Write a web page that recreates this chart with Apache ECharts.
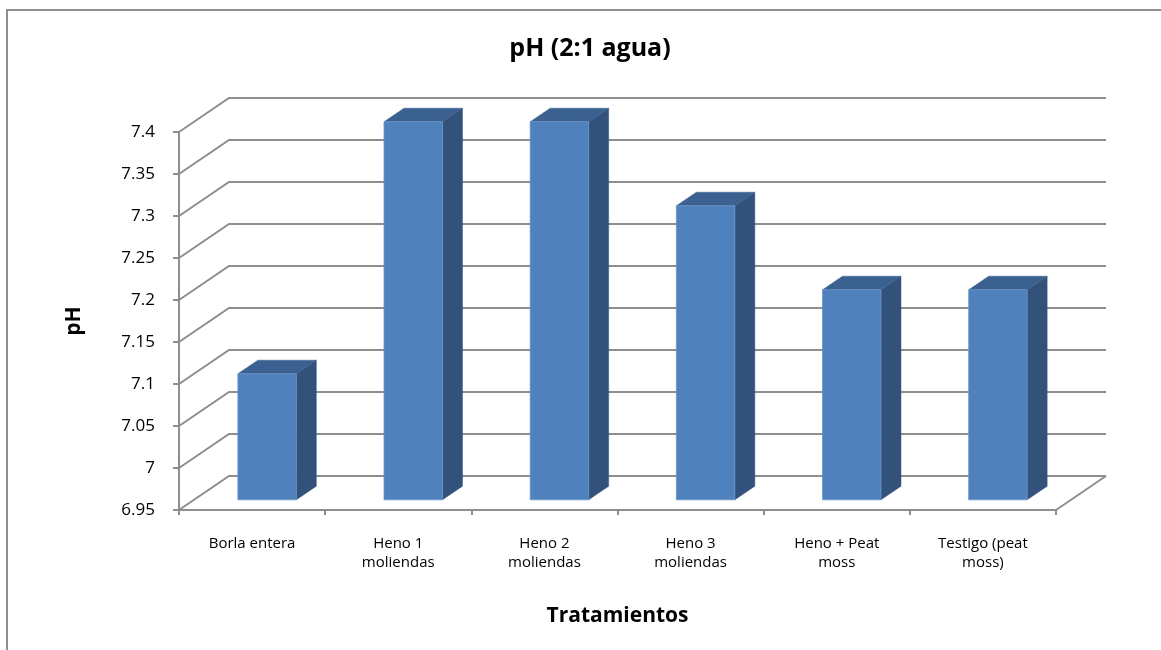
<!DOCTYPE html>
<html>
<head>
<meta charset="utf-8">
<title>pH (2:1 agua)</title>
<script src="https://cdn.jsdelivr.net/npm/echarts@6/dist/echarts.min.js"></script>
<style>
  html, body { margin: 0; padding: 0; background: #ffffff; }
  #chart { width: 1161px; height: 650px; }
</style>
</head>
<body>
<div id="chart"></div>
<script>
// Treatments and their measured pH (2:1 water extract)
const categories = [
  'Borla entera',
  'Heno 1\nmoliendas',
  'Heno 2\nmoliendas',
  'Heno 3\nmoliendas',
  'Heno + Peat\nmoss',
  'Testigo (peat\nmoss)'
];
const phValues = [7.1, 7.4, 7.4, 7.3, 7.2, 7.2];

// Value-axis ticks
const yTicks = [6.95, 7, 7.05, 7.1, 7.15, 7.2, 7.25, 7.3, 7.35, 7.4];
const yMin = 6.95;
const yMax = 7.4;
const yStep = 0.05;

// Oblique projection of the depth direction (pixels)
const DEPTH_X = 50;
const DEPTH_Y = 34;
const FONT = '"Open Sans", Lato, sans-serif';
const GRID_COLOR = '#8e8e8e';

const chart = echarts.init(document.getElementById('chart'), null, { renderer: 'canvas' });

// Walls: left wall diagonal + back-wall horizontal line for each tick, plus floor edge
function renderWallLine(params, api) {
  const cs = params.coordSys;
  const v = api.value(1);
  const y = api.coord([0, v])[1];
  const x0 = cs.x;
  const x1 = cs.x + cs.width;
  const children = [{
    type: 'polyline',
    shape: { points: [[x0, y], [x0 + DEPTH_X, y - DEPTH_Y], [x1 + DEPTH_X, y - DEPTH_Y]] },
    style: { stroke: GRID_COLOR, lineWidth: 2, fill: null },
    silent: true
  }];
  if (Math.abs(v - yMin) < 1e-9) {
    children.push({
      type: 'line',
      shape: { x1: x1, y1: y, x2: x1 + DEPTH_X, y2: y - DEPTH_Y },
      style: { stroke: GRID_COLOR, lineWidth: 2 },
      silent: true
    });
  }
  return { type: 'group', children: children };
}

// 3D box bars: front face, right side, top
function renderBox(params, api) {
  const i = api.value(0);
  const v = api.value(1);
  const top = api.coord([i, v]);
  const base = api.coord([i, yMin]);
  const w = api.size([1, 0])[0] * 0.4;
  const fx = DEPTH_X * 0.3, fy = DEPTH_Y * 0.3;
  const bx = DEPTH_X * 0.7, by = DEPTH_Y * 0.7;
  const xl = top[0] - w / 2 + fx;
  const xr = top[0] + w / 2 + fx;
  const yt = top[1] - fy;
  const yb = base[1] - fy;
  const dx = bx - fx, dy = by - fy;
  return {
    type: 'group',
    children: [
      {
        type: 'polygon',
        shape: { points: [[xr, yt], [xr + dx, yt - dy], [xr + dx, yb - dy], [xr, yb]] },
        style: { fill: '#32527b', stroke: '#32527b', lineWidth: 0.5 }
      },
      {
        type: 'polygon',
        shape: { points: [[xl, yt], [xl + dx, yt - dy], [xr + dx, yt - dy], [xr, yt]] },
        style: { fill: '#3b6190', stroke: '#3b6190', lineWidth: 0.5 }
      },
      {
        type: 'rect',
        shape: { x: xl, y: yt, width: xr - xl, height: yb - yt },
        style: { fill: '#4f81bd', stroke: '#6a96cc', lineWidth: 0.8 }
      }
    ]
  };
}

const option = {
  backgroundColor: '#ffffff',
  animation: false,
  textStyle: { fontFamily: FONT },
  title: {
    text: 'pH (2:1 agua)',
    left: 585,
    textAlign: 'center',
    top: 31,
    textStyle: { fontFamily: FONT, fontSize: 25, fontWeight: 'bold', color: '#000' }
  },
  graphic: [{
    type: 'rect',
    shape: { x: 7, y: 10, width: 1200, height: 700 },
    style: { fill: null, stroke: '#8f8f8f', lineWidth: 2 },
    silent: true,
    z: -10
  }],
  grid: { left: 179, top: 132, width: 877, height: 378, containLabel: false },
  xAxis: {
    type: 'category',
    data: categories,
    boundaryGap: true,
    name: 'Tratamientos',
    nameLocation: 'middle',
    nameGap: 96,
    nameTextStyle: { fontFamily: FONT, fontSize: 21, fontWeight: 'bold', color: '#000' },
    axisLine: { show: true, lineStyle: { color: GRID_COLOR, width: 2 } },
    axisTick: { show: true, alignWithLabel: false, length: 5, lineStyle: { color: GRID_COLOR, width: 2 } },
    axisLabel: {
      interval: 0, margin: 24, fontSize: 15, lineHeight: 19,
      color: '#000', fontFamily: FONT
    },
    splitLine: { show: false }
  },
  yAxis: {
    type: 'value',
    min: yMin,
    max: yMax,
    interval: yStep,
    name: 'pH',
    nameLocation: 'middle',
    nameGap: 94,
    nameTextStyle: { fontFamily: FONT, fontSize: 21, fontWeight: 'bold', color: '#000' },
    axisLine: { show: true, lineStyle: { color: GRID_COLOR, width: 2 } },
    axisTick: { show: true, length: 6, lineStyle: { color: GRID_COLOR, width: 2 } },
    axisLabel: {
      margin: 24, fontSize: 17, color: '#000', fontFamily: FONT,
      formatter: function (v) { return String(parseFloat(v.toFixed(2))); }
    },
    splitLine: { show: false }
  },
  series: [
    {
      type: 'custom',
      name: 'walls',
      renderItem: renderWallLine,
      clip: false,
      silent: true,
      z: 1,
      encode: { x: 0, y: 1 },
      data: yTicks.map(function (t) { return [0, t]; })
    },
    {
      type: 'custom',
      name: 'pH',
      renderItem: renderBox,
      clip: false,
      z: 3,
      encode: { x: 0, y: 1 },
      data: phValues.map(function (v, i) { return [i, v]; })
    }
  ]
};

chart.setOption(option);
</script>
</body>
</html>
